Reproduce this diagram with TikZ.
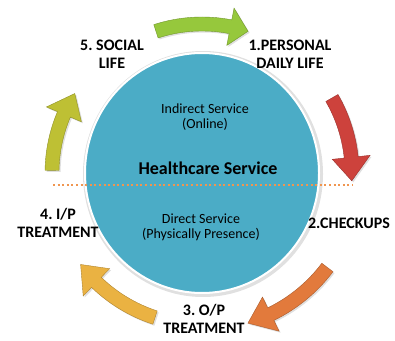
\documentclass[tikz,border=0pt]{standalone}
\usepackage{fontspec}
\setmainfont{Carlito}
\usepackage{tikz}
\usetikzlibrary{shadows}
\frenchspacing

\definecolor{careblue}{RGB}{75,172,198}
\definecolor{dotorange}{RGB}{240,150,80}
\definecolor{arrgreen}{RGB}{150,200,60}
\definecolor{arrred}{RGB}{205,66,60}
\definecolor{arrolive}{RGB}{190,192,52}
\definecolor{arrorange}{RGB}{226,122,60}
\definecolor{arrgold}{RGB}{234,178,66}

\tikzset{
  stagetext/.style={align=center, font=\fontsize{16}{18}\selectfont\bfseries, inner sep=0pt},
  innertext/.style={align=center, font=\fontsize{14}{15}\selectfont, inner sep=0pt},
  titletext/.style={font=\fontsize{18}{20}\selectfont\bfseries, inner sep=0pt},
  cyclearrow/.style={fill=#1, draw=#1!75!black, line width=0.4pt,
    drop shadow={opacity=0.25, shadow xshift=1.5pt, shadow yshift=-1.5pt}}
}

% #1 colour, #2 radius, #3 tail angle, #4 head base angle, #5 tip angle
\newcommand{\cyclearrow}[5]{%
  \path[cyclearrow=#1] (#3:{#2+7}) arc[start angle=#3, end angle=#4, radius=#2+7]
    -- (#4:{#2+19}) -- (#5:{#2}) -- (#4:{#2-19}) -- (#4:{#2-7})
    arc[start angle=#4, end angle=#3, radius=#2-7] -- cycle;}

\begin{document}
\begin{tikzpicture}[x=1pt, y=1pt]
\useasboundingbox (0,0) rectangle (395,340);

% centre circle
\fill[black!12] (203,166) ellipse [x radius=120, y radius=123];
\draw[careblue, fill=careblue, draw=white, line width=2pt] (202,167) ellipse [x radius=117, y radius=120];

% cycle arrows
\begin{scope}[shift={(202,167)}]
\cyclearrow{arrgreen}{149}{108}{79}{72}
\cyclearrow{arrred}{150}{30}{6}{-3}
\cyclearrow{arrorange}{157}{-37}{-64}{-73}
\cyclearrow{arrgold}{152}{-108}{-134}{-143}
\cyclearrow{arrolive}{150}{179}{157}{148}
\end{scope}

% split line
\coordinate (splitL) at (53,155);
\coordinate (splitR) at (353,155);
\draw[dotorange, line width=2pt, dash pattern=on 2pt off 2.6pt] (splitL) -- (splitR);

% texts in the circle
\node[innertext] (indirect) at (205,222.5) {Indirect Service\\(Online)};
\node[titletext] (health) at (208,172) {Healthcare Service};
\node[innertext] (direct) at (201,112.5) {Direct Service\\(Physically Presence)};

% stages
\node[stagetext] (personal) at (290,286) {1.PERSONAL\\DAILY LIFE};
\node[stagetext] (checkups) at (349,117) {2.CHECKUPS};
\node[stagetext] (optreat) at (204,21) {3. O/P\\TREATMENT};
\node[stagetext] (iptreat) at (58,117.5) {4. I/P\\TREATMENT};
\node[stagetext] (social) at (112,286) {5. SOCIAL\\LIFE};
\end{tikzpicture}
\end{document}
